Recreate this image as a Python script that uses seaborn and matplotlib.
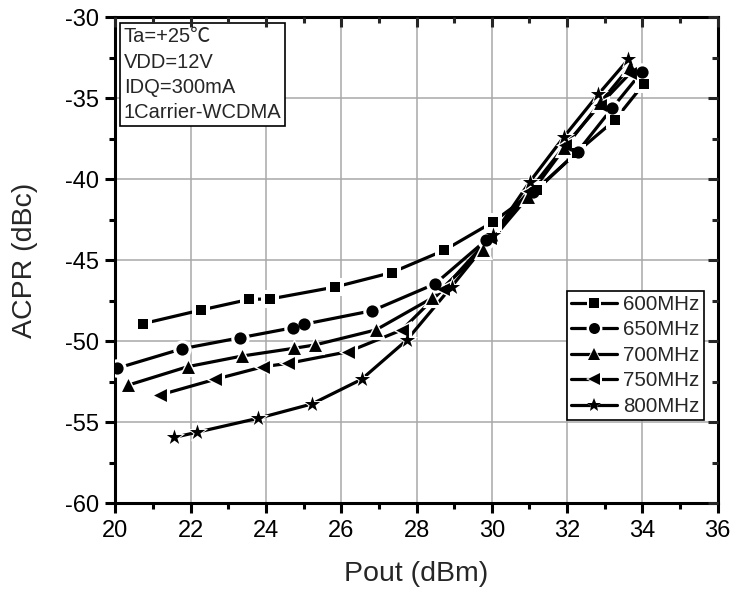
import matplotlib
matplotlib.use("Agg")
import matplotlib.pyplot as plt
from matplotlib.ticker import MultipleLocator
from matplotlib.lines import Line2D
from matplotlib.legend_handler import HandlerTuple
import seaborn as sns
import pandas as pd

# values
pout_600 = [20.74, 22.28, 23.56, 24.11, 25.84, 27.34, 28.74, 30.02, 31.19, 32.25, 33.27, 34.04]
acpr_600 = [-48.91, -48.07, -47.41, -47.39, -46.65, -45.76, -44.38, -42.65, -40.66, -38.35, -36.34, -34.10]

pout_650 = [20.04, 21.78, 23.32, 24.73, 25.01, 26.83, 28.49, 29.85, 31.10, 32.28, 33.20, 33.98]
acpr_650 = [-51.67, -50.46, -49.78, -49.16, -48.95, -48.11, -46.46, -43.75, -40.80, -38.30, -35.60, -33.38]

pout_700 = [20.35, 21.92, 23.37, 24.75, 25.30, 26.92, 28.40, 29.77, 30.97, 31.92, 32.87, 33.67]
acpr_700 = [-52.70, -51.57, -50.91, -50.43, -50.23, -49.30, -47.35, -44.36, -41.07, -38.10, -35.30, -33.05]

pout_750 = [21.19, 22.65, 23.93, 24.60, 26.19, 27.61, 28.70, 29.95, 31.00, 31.95, 32.87, 33.67]
acpr_750 = [-53.31, -52.35, -51.57, -51.36, -50.64, -49.30, -46.80, -43.60, -40.70, -37.90, -35.41, -33.46]

pout_800 = [21.57, 22.16, 23.80, 25.22, 26.54, 27.74, 28.93, 30.04, 31.01, 31.92, 32.83, 33.63]
acpr_800 = [-55.93, -55.62, -54.75, -53.87, -52.35, -49.93, -46.63, -43.45, -40.15, -37.37, -34.75, -32.59]

labels = ["600MHz", "650MHz", "700MHz", "750MHz", "800MHz"]
markers = ["s", "o", "^", "<", "*"]
msizes = [7.8, 8.8, 9.3, 9.3, 11.5]

series = [(pout_600, acpr_600), (pout_650, acpr_650), (pout_700, acpr_700),
          (pout_750, acpr_750), (pout_800, acpr_800)]

sns.set_style("ticks")
plt.rcParams["font.family"] = ["Liberation Sans", "Noto Sans CJK SC", "DejaVu Sans"]
plt.rcParams["axes.unicode_minus"] = False

fig = plt.figure(figsize=(7.34, 5.93), dpi=100)
ax = fig.add_axes([0.1571, 0.1513, 0.8207, 0.8196])

halo = 4.5
handles = []
for (xs, ys), name, mk, ms in zip(series, labels, markers, msizes):
    df = pd.DataFrame({"Pout": xs, "ACPR": ys})
    sns.lineplot(data=df, x="Pout", y="ACPR", ax=ax, color="black", lw=2.3,
                 sort=False, legend=False, zorder=2)
    sns.scatterplot(data=df, x="Pout", y="ACPR", ax=ax, marker=mk, color="white",
                    s=(ms + halo) ** 2, linewidth=0, legend=False, zorder=3)
    sns.scatterplot(data=df, x="Pout", y="ACPR", ax=ax, marker=mk, color="black",
                    s=ms ** 2, linewidth=0, legend=False, zorder=4)
    handles.append((Line2D([], [], color="black", lw=2.3),
                    Line2D([], [], ls="", marker=mk, ms=ms * 0.9 + 3.5, mfc="white", mec="white", mew=0),
                    Line2D([], [], ls="", marker=mk, ms=ms * 0.9, mfc="black", mec="black", mew=0)))

ax.set_xlim(20, 36)
ax.set_ylim(-60, -30)
ax.xaxis.set_major_locator(MultipleLocator(2))
ax.xaxis.set_minor_locator(MultipleLocator(1))
ax.yaxis.set_major_locator(MultipleLocator(5))
ax.yaxis.set_minor_locator(MultipleLocator(2.5))
ax.grid(True, which="major", color="#a8a8a8", lw=1.1, zorder=0)

for s in ax.spines.values():
    s.set_linewidth(2.2)
    s.set_color("black")

ax.tick_params(which="both", direction="out", top=False, right=False,
               labelsize=17, width=2.2, colors="black")
ax.tick_params(which="major", length=7, pad=5)
ax.tick_params(which="minor", length=4)

# inward ticks on the top and right edges
ax2 = ax.twinx()
ax2.set_ylim(ax.get_ylim())
ax2.yaxis.set_major_locator(MultipleLocator(5))
ax2.yaxis.set_minor_locator(MultipleLocator(2.5))
ax2.tick_params(which="both", direction="in", width=2.2, labelright=False)
ax2.tick_params(which="major", length=7)
ax2.tick_params(which="minor", length=4)
ax3 = ax.twiny()
ax3.set_xlim(ax.get_xlim())
ax3.xaxis.set_major_locator(MultipleLocator(2))
ax3.xaxis.set_minor_locator(MultipleLocator(1))
ax3.tick_params(which="both", direction="in", width=2.2, labeltop=False)
ax3.tick_params(which="major", length=7)
ax3.tick_params(which="minor", length=4)
for a in (ax2, ax3):
    for s in a.spines.values():
        s.set_visible(False)
    a.grid(False)

ax.set_xlabel("Pout (dBm)", fontsize=20.5, labelpad=14)
ax.set_ylabel("ACPR (dBc)", fontsize=20.5, labelpad=19)

leg = ax.legend(handles, labels, handler_map={tuple: HandlerTuple(ndivide=1, pad=0)},
                loc="lower right", bbox_to_anchor=(0.977, 0.171), fontsize=14.8,
                frameon=True, fancybox=False, edgecolor="black", framealpha=1,
                handlelength=2.25, handletextpad=0.3, labelspacing=0.32,
                borderpad=0.2, borderaxespad=0)
leg.get_frame().set_linewidth(1.2)
leg.set_zorder(6)

ax.text(0.014, 0.979, "Ta=+25℃\nVDD=12V\nIDQ=300mA\n1Carrier-WCDMA",
        transform=ax.transAxes, ha="left", va="top", fontsize=14.5, linespacing=1.42,
        bbox=dict(boxstyle="square,pad=0.2", fc="white", ec="black", lw=1.2),
        zorder=5)

fig.savefig("out.png", dpi=100)
